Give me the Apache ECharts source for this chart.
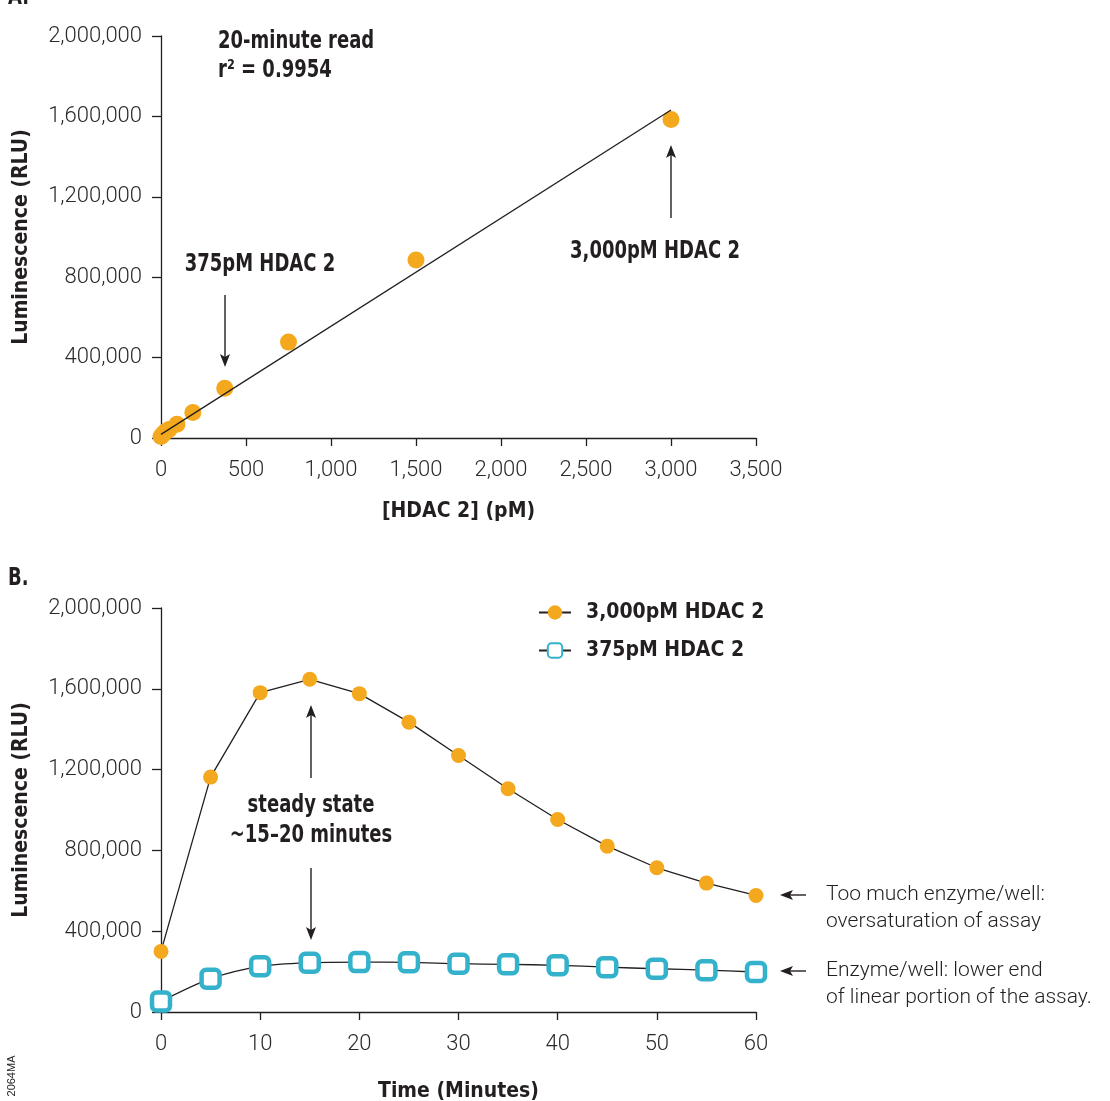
<!DOCTYPE html>
<html lang="en">
<head>
    <meta charset="UTF-8">
    <title>HDAC 2 titration and kinetics</title>
    <script type="text/javascript" src="https://cdn.jsdelivr.net/npm/echarts@6/dist/echarts.min.js"></script>
    <style>
        html, body { margin: 0; padding: 0; background: #fff; }
    </style>
</head>
<body>
<div id="main" style="width: 1110px;height: 1101px"></div>
</body>
<script>
    // panel A: HDAC 2 titration, 20 minute read
    var hdacConc = [0, 11.7, 23.4, 46.9, 93.75, 187.5, 375, 750, 1500, 3000]
    var hdacRlu = [7000, 18000, 30000, 42000, 68000, 127000, 248000, 477000, 886000, 1585000]
    var fitX = [0, 3000]
    var fitY = [18000, 1632000]

    // panel B: time course
    var timeMin = [0, 5, 10, 15, 20, 25, 30, 35, 40, 45, 50, 55, 60]
    var rluHigh = [300000, 1163000, 1581000, 1647000, 1576000, 1435000, 1270000, 1105000, 953000, 821000, 714000, 638000, 577000]
    var rluLow = [52000, 165000, 226000, 244000, 247000, 246000, 239000, 236000, 231000, 222000, 214000, 207000, 198000]
    var seriesNames = ["3,000pM HDAC 2", "375pM HDAC 2"]

    var orange = "#F4A81D"
    var cyan = "#35B2CB"
    var ink = "#231F20"
    var lightFont = "Roboto, 'Liberation Sans', sans-serif"
    var boldFont = "'Liberation Sans Narrow', 'DejaVu Sans Condensed', Roboto, sans-serif"

    function pair(xs, ys) {
        var out = []
        for (var i = 0; i < xs.length; i++) out.push([xs[i], ys[i]])
        return out
    }

    function fmt(v) {
        return v.toLocaleString("en-US")
    }

    function axisX(idx, max, step, name, gap) {
        return {
            type: "value", gridIndex: idx, min: 0, max: max, interval: step,
            name: name, nameLocation: "middle", nameGap: gap,
            nameTextStyle: {fontFamily: boldFont, fontWeight: "bold", fontSize: 21, color: ink},
            axisLine: {lineStyle: {color: ink, width: 1.3}},
            axisTick: {length: 8, lineStyle: {color: ink, width: 1.3}},
            axisLabel: {fontFamily: lightFont, fontWeight: 300, fontSize: 22, color: "#2a2a2a", margin: 21, formatter: fmt},
            splitLine: {show: false}
        }
    }

    function axisY(idx) {
        return {
            type: "value", gridIndex: idx, min: 0, max: 2000000, interval: 400000,
            name: "Luminescence (RLU)", nameLocation: "middle", nameGap: 129,
            nameTextStyle: {fontFamily: boldFont, fontWeight: "bold", fontSize: 21, color: ink},
            axisLine: {show: true, lineStyle: {color: ink, width: 1.3}},
            axisTick: {show: true, length: 9, lineStyle: {color: ink, width: 1.3}},
            axisLabel: {fontFamily: lightFont, fontWeight: 300, fontSize: 22, color: "#2a2a2a", margin: 19, formatter: fmt},
            splitLine: {show: false}
        }
    }

    function arrow(x1, y1, x2, y2) {
        var dx = x2 - x1, dy = y2 - y1
        var len = Math.sqrt(dx * dx + dy * dy)
        var ux = dx / len, uy = dy / len
        var hl = 13, hw = 5
        var bx = x2 - ux * hl, by = y2 - uy * hl
        return {
            type: "group",
            children: [
                {type: "line", shape: {x1: x1, y1: y1, x2: bx + ux * 3, y2: by + uy * 3}, style: {stroke: ink, lineWidth: 1.4}},
                {type: "polygon", shape: {points: [[x2, y2], [bx - uy * hw, by + ux * hw], [bx + ux * 3, by + uy * 3], [bx + uy * hw, by - ux * hw]]},
                    style: {fill: ink}}
            ]
        }
    }

    function txt(s, x, y, align, font, size, weight, sx) {
        return {
            type: "text", x: x, y: y, scaleX: sx || 1,
            style: {text: s, textAlign: align, textVerticalAlign: "middle", fill: ink,
                fontFamily: font, fontSize: size, fontWeight: weight}
        }
    }

    function bold(s, x, y, align) {
        return txt(s, x, y, align, boldFont, 25, "bold", 0.8)
    }

    function light(s, x, y) {
        return txt(s, x, y, "left", lightFont, 21, 300)
    }

    var myChart = echarts.init(document.getElementById("main"), null, {renderer: "canvas"})
    myChart.setOption({
        backgroundColor: "#fff",
        animation: false,
        grid: [
            {left: 161, top: 36, width: 595, height: 402, containLabel: false, outerBoundsMode: "none"},
            {left: 161, top: 608, width: 595, height: 404, containLabel: false, outerBoundsMode: "none"}
        ],
        xAxis: [
            axisX(0, 3500, 500, "[HDAC 2] (pM)", 63),
            axisX(1, 60, 10, "Time (Minutes)", 69)
        ],
        yAxis: [axisY(0), axisY(1)],
        legend: {
            data: seriesNames,
            orient: "vertical",
            left: 533, top: 597,
            itemWidth: 32, itemHeight: 18, itemGap: 17,
            textStyle: {fontFamily: boldFont, fontWeight: "bold", fontSize: 21, color: ink, padding: [0, 0, 0, 10]}
        },
        series: [
            {
                name: "titration", type: "scatter", xAxisIndex: 0, yAxisIndex: 0,
                data: pair(hdacConc, hdacRlu), symbolSize: 17,
                itemStyle: {color: orange, opacity: 1}, z: 2
            },
            {
                name: "fit", type: "line", xAxisIndex: 0, yAxisIndex: 0,
                data: pair(fitX, fitY), showSymbol: false,
                lineStyle: {color: ink, width: 1.3}, z: 3
            },
            {
                name: seriesNames[0], type: "line", xAxisIndex: 1, yAxisIndex: 1,
                data: pair(timeMin, rluHigh),
                symbol: "circle", symbolSize: 15,
                itemStyle: {color: orange},
                lineStyle: {color: ink, width: 1.3}
            },
            {
                name: seriesNames[1], type: "line", xAxisIndex: 1, yAxisIndex: 1,
                data: pair(timeMin, rluLow), smooth: 0.3,
                symbol: "roundRect", symbolSize: 18,
                itemStyle: {color: "#fff", borderColor: cyan, borderWidth: 4.5},
                lineStyle: {color: ink, width: 1.3}
            }
        ],
        graphic: [
            bold("A.", 8, -3, "left"),
            bold("B.", 8, 578, "left"),
            bold("20-minute read", 218, 41, "left"),
            bold("r² = 0.9954", 218, 70, "left"),
            bold("375pM HDAC 2", 260, 264, "center"),
            bold("3,000pM HDAC 2", 655, 251, "center"),
            bold("steady state", 311, 805, "center"),
            bold("~15–20 minutes", 311, 835, "center"),
            light("Too much enzyme/well:", 826, 895),
            light("oversaturation of assay", 826, 922),
            light("Enzyme/well: lower end", 826, 971),
            light("of linear portion of the assay.", 826, 998),
            {
                type: "text", x: 12, y: 1076, rotation: Math.PI / 2,
                style: {text: "2064MA", textAlign: "center", textVerticalAlign: "middle", fill: ink,
                    fontFamily: "'Liberation Sans', sans-serif", fontSize: 11}
            },
            arrow(225, 295, 225, 367),
            arrow(671, 218, 671, 145),
            arrow(311, 778, 311, 705),
            arrow(311, 868, 311, 940),
            arrow(806, 895, 780, 895),
            arrow(806, 971, 780, 971)
        ]
    })
</script>
</html>
